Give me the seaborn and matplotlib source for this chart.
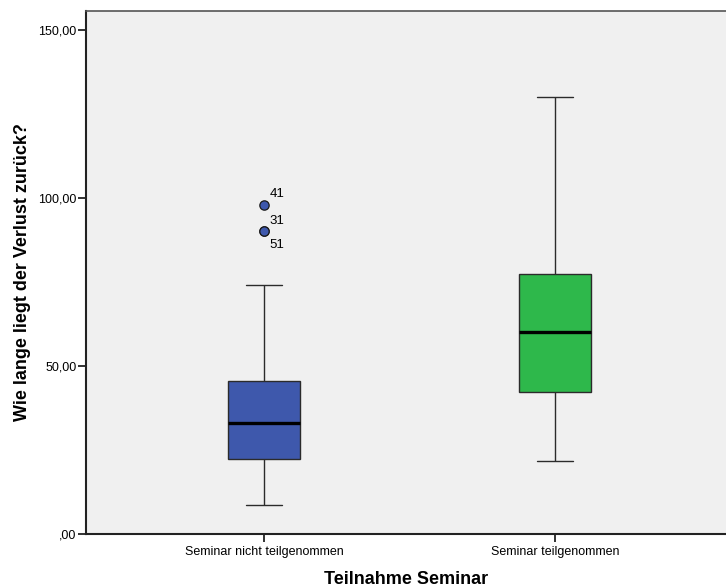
import numpy as np
import pandas as pd
import matplotlib
matplotlib.use("Agg")
import matplotlib.pyplot as plt
import seaborn as sns
from matplotlib.ticker import FixedLocator, FuncFormatter

# --- data ---
categories = ["Seminar nicht teilgenommen", "Seminar teilgenommen"]
whisker_low = [8.6, 21.7]
q1 = [22.3, 42.3]
median = [33.0, 60.1]
q3 = [45.5, 77.4]
whisker_high = [74.1, 130.1]
outlier_values = [97.9, 90.2, 90.2]
outlier_labels = ["41", "31", "51"]
outlier_group = ["Seminar nicht teilgenommen"] * 3
colors = ["#3E58AC", "#2EB84B"]
yticks = [0, 50, 100, 150]

# five-number summaries as tidy data (quartiles of 5 points reproduce them exactly)
rows = []
for c, lo, a, m, b, hi in zip(categories, whisker_low, q1, median, q3, whisker_high):
    for v in (lo, a, m, b, hi):
        rows.append({"group": c, "value": v})
df = pd.DataFrame(rows)
df_out = pd.DataFrame({"group": outlier_group, "value": outlier_values, "label": outlier_labels})

sns.set_theme(style="white")
plt.rcParams["font.family"] = ["Liberation Sans", "DejaVu Sans"]

fig = plt.figure(figsize=(7.26, 5.88), dpi=100)
ax = fig.add_axes([86 / 726, 1 - 534 / 588, 1 - 86 / 726, (534 - 11) / 588])
ax.set_facecolor("#F0F0F0")

sns.boxplot(data=df, x="group", y="value", hue="group", order=categories,
            palette=colors, saturation=1, legend=False, whis=(0, 100), showfliers=False,
            width=0.248, linecolor="#2b2b2b", linewidth=1.0,
            medianprops=dict(color="black", linewidth=2.4),
            ax=ax)

sns.scatterplot(data=df_out, x="group", y="value", color=colors[0],
                edgecolor="#1a1a1a", linewidth=0.9, s=45, zorder=5, ax=ax, legend=False)

# outlier case labels
pos = {c: i for i, c in enumerate(categories)}
offsets = {"41": 3.3, "31": 3.0, "51": -4.1}
for _, r in df_out.iterrows():
    ax.text(pos[r["group"]] + 0.02, r["value"] + offsets[r["label"]], r["label"],
            fontsize=9.5, ha="left", va="center", color="black")

ax.set_xlim(-0.612, 1.588)
ax.set_ylim(0, 155.6)
ax.yaxis.set_major_locator(FixedLocator(yticks))
ax.yaxis.set_major_formatter(FuncFormatter(lambda v, p: (",00" if v == 0 else f"{v:.0f},00")))

for s in ["left", "bottom", "top"]:
    ax.spines[s].set_visible(True)
    ax.spines[s].set_color("#222222")
ax.spines["left"].set_linewidth(1.5)
ax.spines["bottom"].set_linewidth(1.5)
ax.spines["top"].set_linewidth(1.2)
ax.spines["top"].set_color("#555555")
ax.spines["right"].set_visible(False)

ax.tick_params(axis="both", which="major", direction="out", length=6, width=1.3,
               color="#222222", labelsize=9, labelcolor="black",
               left=True, bottom=True)
ax.tick_params(axis="y", pad=1)
ax.tick_params(axis="x", pad=3)

ax.set_xlabel("Teilnahme Seminar", fontsize=13, fontweight="bold", labelpad=9, color="black")
ax.set_ylabel("Wie lange liegt der Verlust zurück?", fontsize=13, fontweight="bold", labelpad=5, color="black")

fig.savefig("out.png", dpi=100, facecolor="white")
